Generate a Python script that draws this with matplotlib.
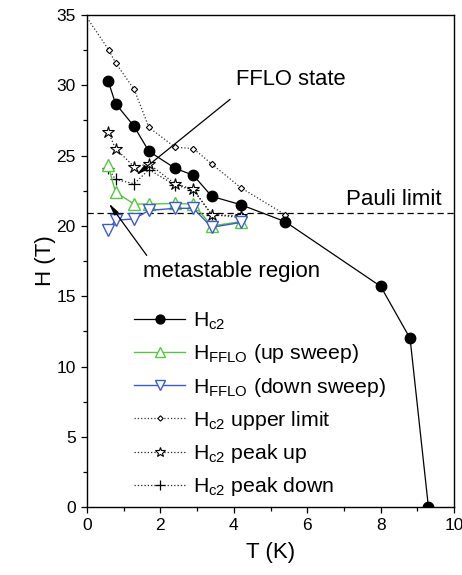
import matplotlib
matplotlib.use("Agg")
import matplotlib.pyplot as plt
from matplotlib.ticker import MultipleLocator

plt.rcParams['font.family'] = ['Liberation Sans', 'DejaVu Sans']
plt.rcParams['mathtext.fontset'] = 'custom'
plt.rcParams['mathtext.rm'] = 'Liberation Sans'
plt.rcParams['mathtext.it'] = 'Liberation Sans:italic'

# Data
T_hc2 = [0.58, 0.78, 1.28, 1.69, 2.40, 2.90, 3.40, 4.20, 5.40, 8.00, 8.80, 9.30]
H_hc2 = [30.3, 28.7, 27.1, 25.3, 24.1, 23.6, 22.1, 21.5, 20.3, 15.7, 12.0, 0.0]

T_up = [0.58, 0.78, 1.29, 1.69, 2.40, 2.90, 3.40, 4.20]
H_up = [24.3, 22.4, 21.55, 21.55, 21.6, 21.55, 20.0, 20.3]

T_down = [0.58, 0.78, 1.29, 1.69, 2.40, 2.90, 3.40, 4.20]
H_down = [19.7, 20.4, 20.5, 21.1, 21.25, 21.25, 19.9, 20.25]

T_lim = [-0.15, 0.60, 0.78, 1.29, 1.69, 2.40, 2.90, 3.40, 4.20, 5.40]
H_lim = [35.4, 32.5, 31.6, 29.7, 27.0, 25.6, 25.5, 24.4, 22.7, 20.8]

T_pku = [0.58, 0.78, 1.29, 1.69, 2.40, 2.90, 3.40, 4.20]
H_pku = [26.7, 25.5, 24.2, 24.4, 23.0, 22.6, 20.8, 20.7]

T_pkd = [0.58, 0.78, 1.29, 1.69, 2.40, 2.90, 3.40, 4.20]
H_pkd = [24.1, 23.3, 23.0, 24.0, 22.9, 22.55, 20.8, 20.6]

pauli = 20.93

green = '#5cc248'
blue = '#3d5cc0'

fig = plt.figure(figsize=(4.62, 5.75), dpi=100)
ax = fig.add_axes([0.188, 0.118, 0.795, 0.856])

ax.axhline(pauli, color='black', lw=0.9, ls=(0, (5, 3)))

ax.plot(T_lim, H_lim, ls=':', color='#333333', lw=0.9, marker='D', ms=3.2,
        mfc='white', mec='black', mew=0.8, label=r'H$_\mathregular{c2}$ upper limit')
ax.plot(T_pkd, H_pkd, ls=':', color='#222222', lw=0.9, marker='+', ms=8,
        mec='black', mew=0.9, label=r'H$_\mathregular{c2}$ peak down')
ax.plot(T_pku, H_pku, ls=':', color='#222222', lw=0.9, marker='*', ms=9,
        mfc='white', mec='black', mew=0.8, label=r'H$_\mathregular{c2}$ peak up')
ax.plot(T_up, H_up, ls='-', color=green, lw=1.0, marker='^', ms=8,
        mfc='white', mec=green, mew=1.0, label=r'H$_\mathregular{FFLO}$ (up sweep)')
ax.plot(T_down, H_down, ls='-', color=blue, lw=1.0, marker='v', ms=8,
        mfc='white', mec=blue, mew=1.0, label=r'H$_\mathregular{FFLO}$ (down sweep)')
ax.plot(T_hc2, H_hc2, ls='-', color='black', lw=0.9, marker='o', ms=7.5,
        mfc='black', mec='black', label=r'H$_\mathregular{c2}$')

ax.set_xlim(0, 10)
ax.set_ylim(0, 35)
ax.xaxis.set_major_locator(MultipleLocator(2))
ax.xaxis.set_minor_locator(MultipleLocator(1))
ax.yaxis.set_major_locator(MultipleLocator(5))
ax.yaxis.set_minor_locator(MultipleLocator(2.5))
ax.tick_params(which='both', direction='out', labelsize=12.5, width=0.9)
ax.tick_params(which='major', length=4.5)
ax.tick_params(which='minor', length=3)
for s in ax.spines.values():
    s.set_linewidth(1.0)

ax.set_xlabel('T (K)', fontsize=16, labelpad=6)
ax.set_ylabel('H (T)', fontsize=16, labelpad=0)

# Annotations
ax.text(4.06, 30.0, 'FFLO state', fontsize=15.8, ha='left', va='baseline')
ax.annotate('', xy=(1.34, 23.6), xytext=(3.90, 29.0),
            arrowprops=dict(arrowstyle='-|>,head_length=0.7,head_width=0.15',
                            color='black', lw=0.9, shrinkA=0, shrinkB=0))
ax.text(1.53, 16.4, 'metastable region', fontsize=16, ha='left', va='baseline')
ax.annotate('', xy=(0.60, 21.6), xytext=(1.63, 17.9),
            arrowprops=dict(arrowstyle='-|>,head_length=0.7,head_width=0.15',
                            color='black', lw=0.9, shrinkA=0, shrinkB=0))
ax.text(9.67, 21.5, 'Pauli limit', fontsize=16, ha='right', va='baseline')

handles, labels = ax.get_legend_handles_labels()
order = [5, 3, 4, 0, 2, 1]
leg = ax.legend([handles[i] for i in order], [labels[i] for i in order],
                loc='lower left', bbox_to_anchor=(0.089, -0.012), frameon=False,
                fontsize=15.3, handlelength=2.4, handletextpad=0.35,
                labelspacing=0.48, borderaxespad=0.3, markerscale=0.85)

fig.savefig('out.png', dpi=100)
